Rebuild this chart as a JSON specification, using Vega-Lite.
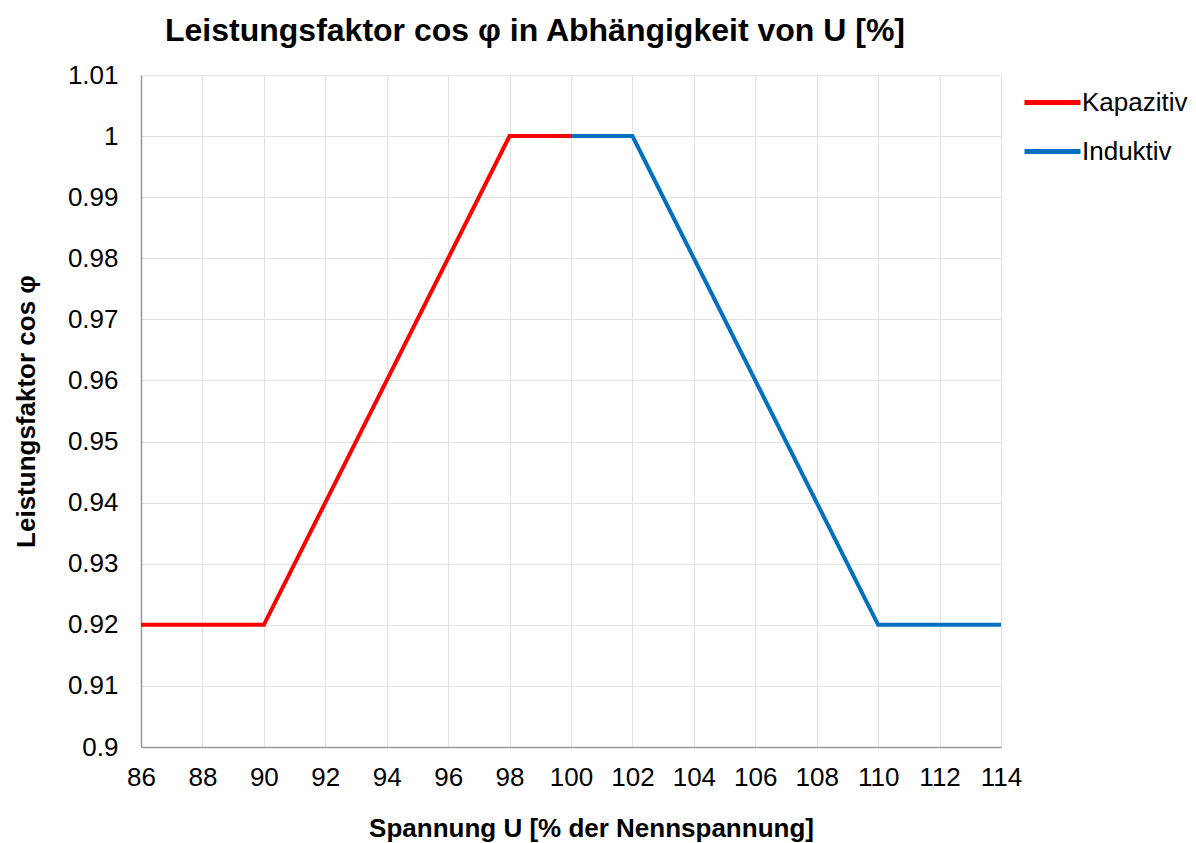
{
  "$schema": "https://vega.github.io/schema/vega-lite/v6.json",
  "autosize": "none",
  "width": 860,
  "height": 672,
  "padding": {"left": 141, "top": 75, "right": 195, "bottom": 96},
  "background": "white",
  "config": {
    "font": "Liberation Sans",
    "view": {"stroke": null}
  },
  "title": {
    "text": "Leistungsfaktor cos φ in Abhängigkeit von U [%]",
    "anchor": "start",
    "frame": "group",
    "dx": 24,
    "offset": 14,
    "fontSize": 32,
    "fontWeight": "bold",
    "font": "Liberation Sans",
    "color": "black"
  },
  "data": {
    "values": [
      {"u": 86, "pf": 0.92, "typ": "Kapazitiv"},
      {"u": 90, "pf": 0.92, "typ": "Kapazitiv"},
      {"u": 98, "pf": 1.0, "typ": "Kapazitiv"},
      {"u": 100, "pf": 1.0, "typ": "Kapazitiv"},
      {"u": 100, "pf": 1.0, "typ": "Induktiv"},
      {"u": 102, "pf": 1.0, "typ": "Induktiv"},
      {"u": 110, "pf": 0.92, "typ": "Induktiv"},
      {"u": 114, "pf": 0.92, "typ": "Induktiv"}
    ]
  },
  "mark": {"type": "line", "strokeWidth": 4, "strokeCap": "butt"},
  "encoding": {
    "x": {
      "field": "u",
      "type": "quantitative",
      "scale": {"domain": [86, 114], "nice": false, "zero": false},
      "axis": {
        "title": "Spannung U [% der Nennspannung]",
        "values": [86, 88, 90, 92, 94, 96, 98, 100, 102, 104, 106, 108, 110, 112, 114],
        "labelFontSize": 26,
        "labelColor": "black",
        "labelPadding": 17,
        "labelFlush": false,
        "labelOverlap": false,
        "ticks": false,
        "domainColor": "#999999",
        "domainWidth": 1.5,
        "gridColor": "#e3e3e3",
        "titleFontSize": 26,
        "titleFontWeight": "bold",
        "titleColor": "black",
        "titlePadding": 25,
        "titleX": 450
      }
    },
    "y": {
      "field": "pf",
      "type": "quantitative",
      "scale": {"domain": [0.9, 1.01], "nice": false, "zero": false},
      "axis": {
        "title": "Leistungsfaktor cos φ",
        "values": [0.9, 0.91, 0.92, 0.93, 0.94, 0.95, 0.96, 0.97, 0.98, 0.99, 1.0, 1.01],
        "format": ".2~f",
        "labelFontSize": 26,
        "labelColor": "black",
        "labelPadding": 23,
        "labelFlush": false,
        "labelOverlap": false,
        "ticks": false,
        "domainColor": "#999999",
        "domainWidth": 1.5,
        "gridColor": "#e3e3e3",
        "titleFontSize": 26,
        "titleFontWeight": "bold",
        "titleColor": "black",
        "titlePadding": 28
      }
    },
    "color": {
      "field": "typ",
      "type": "nominal",
      "scale": {"domain": ["Kapazitiv", "Induktiv"], "range": ["#ff0000", "#0070c0"]},
      "legend": {
        "title": null,
        "orient": "none",
        "legendX": 881,
        "legendY": -3,
        "symbolType": "stroke",
        "symbolSize": 3136,
        "symbolStrokeWidth": 5,
        "labelFontSize": 26,
        "labelColor": "black",
        "labelOffset": -1,
        "rowPadding": 5
      }
    }
  }
}
